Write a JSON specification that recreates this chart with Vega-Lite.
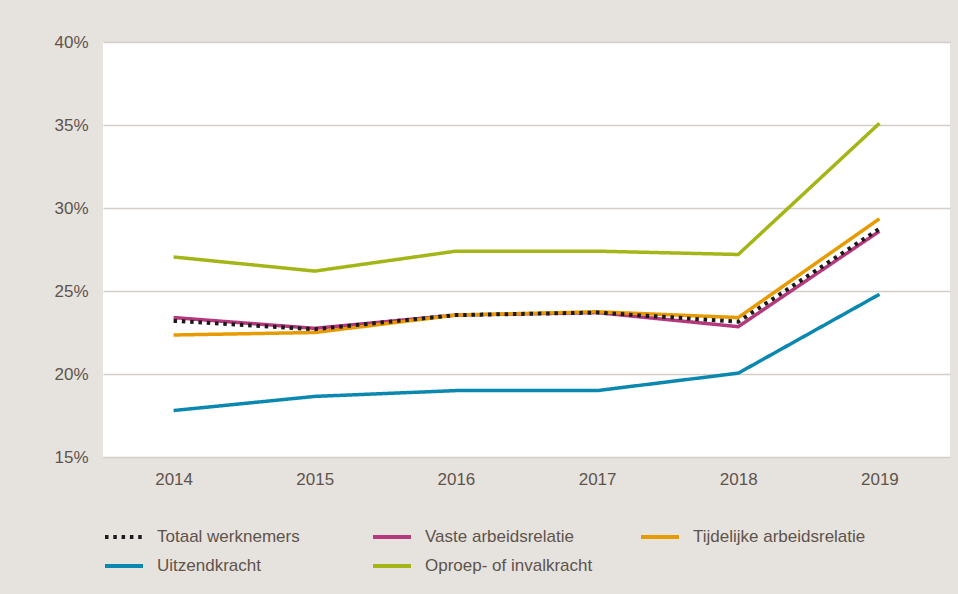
{
  "$schema": "https://vega.github.io/schema/vega-lite/v6.json",
  "width": 847,
  "height": 415,
  "autosize": {"type": "none"},
  "padding": {"left": 103, "top": 42, "right": 8, "bottom": 137},
  "background": "#e6e2de",
  "config": {
    "view": {"fill": "#ffffff", "stroke": null},
    "font": "Liberation Sans",
    "axis": {
      "labelFont": "Liberation Sans",
      "labelFontSize": 17,
      "labelColor": "#5e544c",
      "domain": false,
      "ticks": false,
      "title": null
    },
    "legend": {
      "labelFont": "Liberation Sans",
      "labelFontSize": 17,
      "labelColor": "#5e544c",
      "labelLimit": 400
    }
  },
  "data": {
    "values": [
      {"jaar": "2014", "groep": "Vaste arbeidsrelatie", "pct": 23.4},
      {"jaar": "2015", "groep": "Vaste arbeidsrelatie", "pct": 22.75},
      {"jaar": "2016", "groep": "Vaste arbeidsrelatie", "pct": 23.55},
      {"jaar": "2017", "groep": "Vaste arbeidsrelatie", "pct": 23.7},
      {"jaar": "2018", "groep": "Vaste arbeidsrelatie", "pct": 22.85},
      {"jaar": "2019", "groep": "Vaste arbeidsrelatie", "pct": 28.6},
      {"jaar": "2014", "groep": "Tijdelijke arbeidsrelatie", "pct": 22.35},
      {"jaar": "2015", "groep": "Tijdelijke arbeidsrelatie", "pct": 22.5},
      {"jaar": "2016", "groep": "Tijdelijke arbeidsrelatie", "pct": 23.55},
      {"jaar": "2017", "groep": "Tijdelijke arbeidsrelatie", "pct": 23.75},
      {"jaar": "2018", "groep": "Tijdelijke arbeidsrelatie", "pct": 23.4},
      {"jaar": "2019", "groep": "Tijdelijke arbeidsrelatie", "pct": 29.35},
      {"jaar": "2014", "groep": "Uitzendkracht", "pct": 17.8},
      {"jaar": "2015", "groep": "Uitzendkracht", "pct": 18.65},
      {"jaar": "2016", "groep": "Uitzendkracht", "pct": 19.0},
      {"jaar": "2017", "groep": "Uitzendkracht", "pct": 19.0},
      {"jaar": "2018", "groep": "Uitzendkracht", "pct": 20.05},
      {"jaar": "2019", "groep": "Uitzendkracht", "pct": 24.8},
      {"jaar": "2014", "groep": "Oproep- of invalkracht", "pct": 27.05},
      {"jaar": "2015", "groep": "Oproep- of invalkracht", "pct": 26.2},
      {"jaar": "2016", "groep": "Oproep- of invalkracht", "pct": 27.4},
      {"jaar": "2017", "groep": "Oproep- of invalkracht", "pct": 27.4},
      {"jaar": "2018", "groep": "Oproep- of invalkracht", "pct": 27.2},
      {"jaar": "2019", "groep": "Oproep- of invalkracht", "pct": 35.1},
      {"jaar": "2014", "groep": "Totaal werknemers", "pct": 23.2},
      {"jaar": "2015", "groep": "Totaal werknemers", "pct": 22.7},
      {"jaar": "2016", "groep": "Totaal werknemers", "pct": 23.55},
      {"jaar": "2017", "groep": "Totaal werknemers", "pct": 23.7},
      {"jaar": "2018", "groep": "Totaal werknemers", "pct": 23.15},
      {"jaar": "2019", "groep": "Totaal werknemers", "pct": 28.75}
    ]
  },
  "encoding": {
    "x": {
      "field": "jaar",
      "type": "ordinal",
      "scale": {"type": "point", "padding": 0.5},
      "axis": {"labelAngle": 0, "labelPadding": 14, "grid": false}
    },
    "y": {
      "field": "pct",
      "type": "quantitative",
      "scale": {"domain": [15, 40], "nice": false, "zero": false},
      "axis": {
        "values": [15, 20, 25, 30, 35, 40],
        "labelExpr": "datum.value + '%'",
        "labelPadding": 15,
        "gridColor": "#d4cec8",
        "gridWidth": 1.5
      }
    },
    "color": {
      "field": "groep",
      "type": "nominal",
      "scale": {
        "domain": ["Totaal werknemers", "Vaste arbeidsrelatie", "Tijdelijke arbeidsrelatie", "Uitzendkracht", "Oproep- of invalkracht"],
        "range": ["#1a1a1a", "#b5387c", "#e89b00", "#0a88b0", "#a4b517"]
      },
      "legend": {
        "title": null,
        "orient": "bottom",
        "direction": "horizontal",
        "columns": 3,
        "gridAlign": "all",
        "columnPadding": 35,
        "rowPadding": -12,
        "symbolType": "stroke",
        "symbolSize": 1444,
        "symbolStrokeWidth": 4,
        "labelOffset": 12,
        "offset": 29
      }
    },
    "strokeDash": {
      "field": "groep",
      "type": "nominal",
      "scale": {
        "domain": ["Totaal werknemers", "Vaste arbeidsrelatie", "Tijdelijke arbeidsrelatie", "Uitzendkracht", "Oproep- of invalkracht"],
        "range": [[3.5, 4.8], [1, 0], [1, 0], [1, 0], [1, 0]]
      },
      "legend": {
        "title": null,
        "orient": "bottom",
        "direction": "horizontal",
        "columns": 3,
        "gridAlign": "all",
        "columnPadding": 35,
        "rowPadding": -12,
        "symbolType": "stroke",
        "symbolSize": 1444,
        "symbolStrokeWidth": 4,
        "labelOffset": 12,
        "offset": 29
      }
    }
  },
  "layer": [
    {
      "transform": [{"filter": "datum.groep !== 'Totaal werknemers'"}],
      "mark": {"type": "line", "strokeWidth": 3.5}
    },
    {
      "transform": [{"filter": "datum.groep === 'Totaal werknemers'"}],
      "mark": {"type": "line", "strokeWidth": 4}
    }
  ]
}
